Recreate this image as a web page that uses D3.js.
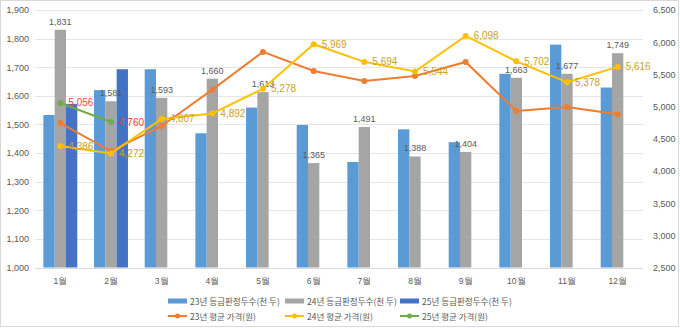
<!DOCTYPE html>
<html><head><meta charset="utf-8">
<script src="https://cdn.jsdelivr.net/npm/d3@7/dist/d3.min.js"></script>
<style>
body{margin:0;background:#fff;}
svg{display:block;font-family:"Noto Sans CJK KR","Noto Sans",sans-serif;}
</style></head>
<body>
<svg id="chart" width="680" height="328"></svg>
<script>
const months = ["1월","2월","3월","4월","5월","6월","7월","8월","9월","10월","11월","12월"];
const heads23 = [1533,1620,1693,1469,1559,1498,1369,1483,1438,1677,1779,1629];
const heads24 = [1831,1581,1593,1660,1613,1365,1491,1388,1404,1663,1677,1749];
const heads25 = [1572,1693];
const price23 = [4744,4309,4698,5264,5849,5553,5398,5475,5693,4931,4993,4880];
const price24 = [4386,4272,4807,4892,5278,5969,5694,5544,6098,5702,5378,5616];
const price25 = [5056,4760];
const leftTicks = [1000,1100,1200,1300,1400,1500,1600,1700,1800,1900];
const rightTicks = [2500,3000,3500,4000,4500,5000,5500,6000,6500];
const legendLabels = ["23년 등급판정두수(천 두)","24년 등급판정두수(천 두)","25년 등급판정두수(천 두)","23년 평균 가격(원)","24년 평균 가격(원)","25년 평균 가격(원)"];

const C = {b23:"#5B9BD5", b24:"#A5A5A5", b25:"#4472C4", l23:"#ED7D31", l24:"#FFC000", l25:"#70AD47"};
const svg = d3.select("#chart");
const fmt = d3.format(",");
const numFont = "'Liberation Sans',Arial,sans-serif";

// frame
svg.append("rect").attr("x",0.5).attr("y",0.5).attr("width",678).attr("height",326)
  .attr("fill","#fff").attr("stroke","#D9D9D9");

const x = d3.scaleBand().domain(months).range([35,643]).padding(0);
const xs = d3.scaleBand().domain(["23","24","25"]).range([0,x.bandwidth()]).paddingInner(0).paddingOuter(0.74);
const yL = d3.scaleLinear().domain([1000,1900]).range([267.5,10]);
const yR = d3.scaleLinear().domain([2500,6500]).range([267.5,10]);

// grid
svg.append("g").selectAll("line").data(leftTicks).join("line")
  .attr("x1",35).attr("x2",643).attr("y1",d=>Math.round(yL(d))+0.5).attr("y2",d=>Math.round(yL(d))+0.5)
  .attr("stroke", d=>d===1000?"#D9D9D9":"#E5E5E5").attr("stroke-width",1);

// left axis
const axL = svg.append("g").attr("transform","translate(35,0)")
  .call(d3.axisLeft(yL).tickValues(leftTicks).tickFormat(fmt).tickSize(0).tickPadding(6));
axL.select(".domain").remove();
axL.selectAll("text").attr("fill","#595959").style("font-size","9px").style("font-family",numFont);

// right axis
const axR = svg.append("g").attr("transform","translate(643,0)")
  .call(d3.axisRight(yR).tickValues(rightTicks).tickFormat(fmt).tickSize(0).tickPadding(10));
axR.select(".domain").remove();
axR.selectAll("text").attr("fill","#595959").style("font-size","9px").style("font-family",numFont);

// x axis
const axX = svg.append("g").attr("transform","translate(0,268)")
  .call(d3.axisBottom(x).tickSize(0).tickPadding(10));
axX.select(".domain").remove();
axX.selectAll("text").attr("fill","#595959").style("font-size","8.5px");

// bars
const bars = [];
months.forEach((m,i)=>{
  bars.push({m, k:"23", v:heads23[i], c:C.b23});
  bars.push({m, k:"24", v:heads24[i], c:C.b24});
  if (heads25[i]!==undefined) bars.push({m, k:"25", v:heads25[i], c:C.b25});
});
svg.append("g").selectAll("rect").data(bars).join("rect")
  .attr("x",d=>x(d.m)+xs(d.k)).attr("width",xs.bandwidth())
  .attr("y",d=>yL(d.v)).attr("height",d=>yL(1000)-yL(d.v)).attr("fill",d=>d.c);

// grey bar labels
svg.append("g").selectAll("text").data(months).join("text")
  .attr("x",(m)=>x(m)+xs("24")+xs.bandwidth()/2)
  .attr("y",(m,i)=>yL(heads24[i])-5)
  .attr("text-anchor","middle").attr("fill","#595959")
  .style("font-size","9px").style("font-family",numFont)
  .text((m,i)=>fmt(heads24[i]));

// lines
function drawLine(vals, color, labelColor){
  const pts = vals.map((v,i)=>({m:months[i], v}));
  const line = d3.line().x(d=>x(d.m)+x.bandwidth()/2).y(d=>yR(d.v));
  svg.append("path").datum(pts).attr("d",line).attr("fill","none").attr("stroke",color).attr("stroke-width",2);
  svg.append("g").selectAll("circle").data(pts).join("circle")
    .attr("cx",d=>x(d.m)+x.bandwidth()/2).attr("cy",d=>yR(d.v)).attr("r",3).attr("fill",color);
  if (labelColor){
    svg.append("g").selectAll("text").data(pts).join("text")
      .attr("x",d=>x(d.m)+x.bandwidth()/2+8).attr("y",d=>yR(d.v)+3.5)
      .attr("fill",labelColor).style("font-size","10px").style("font-family",numFont)
      .text(d=>fmt(d.v));
  }
}
drawLine(price23, C.l23, null);
drawLine(price24, C.l24, "#C9A227");
drawLine(price25, C.l25, "#FF3B3B");

// legend
const legX = [168,285,400];
const legW = [90,66];
const legItems = legendLabels.map((t,i)=>({t, c:[C.b23,C.b24,C.b25,C.l23,C.l24,C.l25][i], row:Math.floor(i/3), col:i%3}));
const lg = svg.append("g");
legItems.forEach(d=>{
  const y0 = d.row===0 ? 301 : 316;
  const x0 = legX[d.col];
  if (d.row===0){
    lg.append("rect").attr("x",x0).attr("y",y0-2.5).attr("width",19).attr("height",5).attr("fill",d.c);
  } else {
    lg.append("line").attr("x1",x0).attr("x2",x0+19).attr("y1",y0).attr("y2",y0).attr("stroke",d.c).attr("stroke-width",2);
    lg.append("circle").attr("cx",x0+9.5).attr("cy",y0).attr("r",2.5).attr("fill",d.c);
  }
  const t = lg.append("text").attr("x",x0+22).attr("y",y0+3.5).attr("fill","#595959").style("font-size","10px").text(d.t);
  const w = t.node().getComputedTextLength();
  const fs = Math.min(10, 10*legW[d.row]/w);
  t.style("font-size", fs+"px");
});
</script>
</body></html>
